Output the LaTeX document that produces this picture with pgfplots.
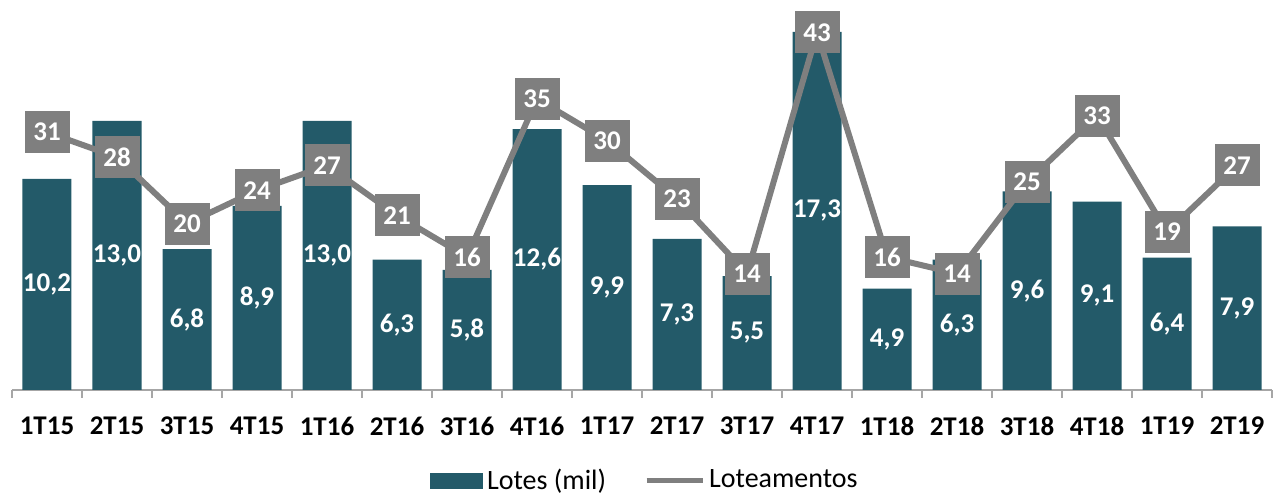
\documentclass[border=0pt]{standalone}
\usepackage{fontspec}
\setmainfont{Carlito}
\usepackage{pgfplots}
\pgfplotsset{compat=1.18}
\definecolor{barc}{HTML}{235A69}
\definecolor{linec}{HTML}{7F7F7F}
\definecolor{axc}{HTML}{A6A6A6}
\pgfplotsset{/pgf/number format/assume math mode=true}
\begin{document}
\begin{tikzpicture}
\path[use as bounding box] (-6pt,-53pt) rectangle (631pt,195pt);
\begin{axis}[
  scale only axis, width=630pt, height=195pt,
  xmin=-0.5, xmax=17.5, ymin=0, ymax=18.84,
  axis x line*=bottom, axis y line=none,
  xtick={0,...,17},
  xticklabels={1T15,2T15,3T15,4T15,1T16,2T16,3T16,4T16,1T17,2T17,3T17,4T17,1T18,2T18,3T18,4T18,1T19,2T19},
  major tick length=0pt,
  extra x ticks={-0.5,0.5,...,17.5}, extra x tick labels={},
  extra x tick style={major tick length=4pt, tick align=outside, tick style={axc, line width=0.75pt}},
  x axis line style={axc, line width=0.75pt, -},
  xticklabel style={font=\bfseries\fontsize{13.5}{13.5}\selectfont, yshift=-10pt},
  ybar, bar width=24.5pt, clip=false,
]
\addplot[fill=barc, draw=none,
  visualization depends on={y \as \rawy},
  nodes near coords={\pgfmathprintnumber[fixed, fixed zerofill, precision=1, use comma]{\pgfplotspointmeta}},
  every node near coord/.append style={anchor=center, text=white, font=\bfseries\fontsize{13.5}{13.5}\selectfont, shift={(axis direction cs:0,-\rawy/2)}}]
  coordinates {(0,10.2) (1,13.0) (2,6.8) (3,8.9) (4,13.0) (5,6.3) (6,5.8) (7,12.6) (8,9.9) (9,7.3) (10,5.5) (11,17.3) (12,4.9) (13,6.3) (14,9.6) (15,9.1) (16,6.4) (17,7.9)};
\end{axis}
\begin{axis}[
  scale only axis, width=630pt, height=195pt,
  xmin=-0.5, xmax=17.5, ymin=0, ymax=46.9,
  hide axis, clip=false,
  legend style={draw=none, fill=none, at={(0.5,-0.232)}, anchor=center, xshift=2pt,
    font=\fontsize{14}{14}\selectfont, legend columns=2,
    /tikz/every even column/.append style={column sep=17pt}},
  legend cell align=left,
]
\addlegendimage{legend image code/.code={\fill[barc] (0pt,-3.75pt) rectangle (26pt,3.75pt);}}
\addlegendentry{Lotes (mil)}
\addplot[linec, line width=3pt, mark=none,
  legend image code/.code={\draw[linec, line width=2.5pt] (0pt,0pt) -- (28pt,0pt);},
  nodes near coords,
  every node near coord/.append style={anchor=center, fill=linec, text=white, inner sep=0pt,
    minimum width=22.5pt, minimum height=21pt, font=\bfseries\fontsize{13.5}{13.5}\selectfont}]
  coordinates {(0,31) (1,28) (2,20) (3,24) (4,27) (5,21) (6,16) (7,35) (8,30) (9,23) (10,14) (11,43) (12,16) (13,14) (14,25) (15,33) (16,19) (17,27)};
\addlegendentry{Loteamentos}
\end{axis}
\end{tikzpicture}
\end{document}
